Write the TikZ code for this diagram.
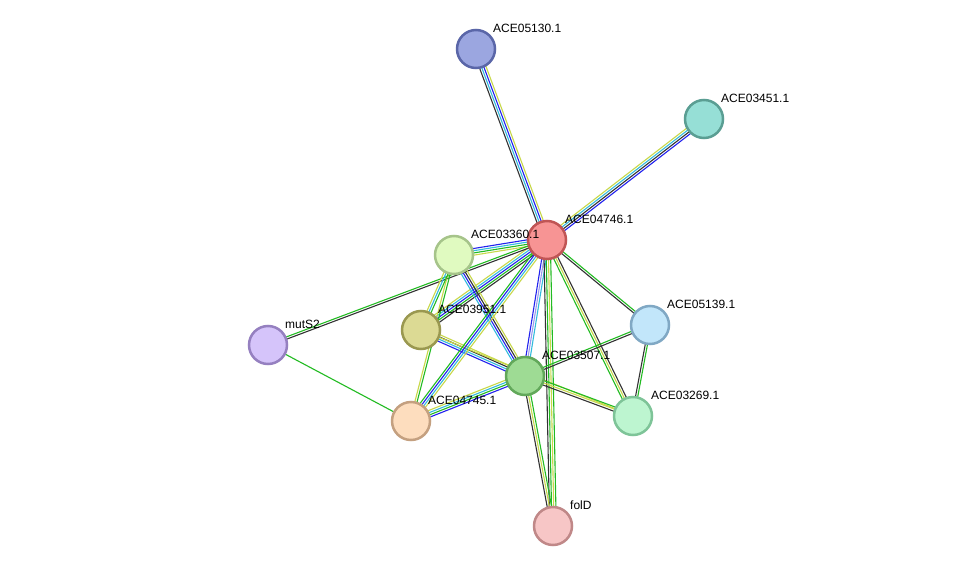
\documentclass[tikz,border=0pt]{standalone}
\usepackage{fontspec}
\setmainfont{Liberation Sans}
\usetikzlibrary{calc}
\definecolor{eG}{HTML}{22BB22}
\definecolor{eK}{HTML}{333333}
\definecolor{eY}{HTML}{C8D84A}
\definecolor{eB}{HTML}{2222EE}
\definecolor{eC}{HTML}{33BBDD}
\definecolor{eP}{HTML}{9999EE}
\tikzset{prot/.style={circle,minimum size=38pt,inner sep=0pt,line width=2.5pt},
 lbl/.style={anchor=west,font=\fontsize{12}{14}\selectfont,inner sep=1pt}}
\newcommand\medge[3]{%
 \foreach \c [count=\i] in {#3} {\pgfmathsetmacro\nn{0}}%
 \foreach \c [count=\i] in {#3} {%
  \pgfmathsetmacro\off{(\i-(\nn+1)/2)*2.2}%
  \draw[\c,line width=1.1pt] ($(#1)!\off pt!90:(#2)$) -- ($(#2)!\off pt!-90:(#1)$);}}
\newcommand\nedge[4]{%
 \foreach \c [count=\i] in {#4} {%
  \pgfmathsetmacro\off{(\i-(#3+1)/2)*2.2}%
  \draw[\c,line width=1.1pt] ($(#1)!\off pt!90:(#2)$) -- ($(#2)!\off pt!-90:(#1)$);}}
\begin{document}
\begin{tikzpicture}[x=1pt,y=-1pt]
\useasboundingbox[fill=white] (0,0) rectangle (976,572);
\coordinate (p30) at (476,49);
\coordinate (p51) at (704,119);
\coordinate (p46) at (547,240);
\coordinate (p60) at (454,255);
\coordinate (pmu) at (268,345);
\coordinate (p95) at (421,330);
\coordinate (p39) at (650,325);
\coordinate (p07) at (525,376);
\coordinate (p45) at (411,421);
\coordinate (p69) at (633,416);
\coordinate (pfo) at (553,526);
\nedge{p30}{p46}{4}{eK,eC,eB,eY}
\nedge{p51}{p46}{4}{eY,eC,eK,eB}
\nedge{p60}{p46}{4}{eY,eG,eC,eB}
\nedge{p95}{p46}{5}{eK,eG,eB,eC,eY}
\nedge{pmu}{p46}{2}{eK,eG}
\nedge{pmu}{p45}{1}{eG}
\nedge{p60}{p07}{4}{eC,eB,eK,eY}
\nedge{p60}{p45}{2}{eY,eG}
\nedge{p60}{p95}{3}{eY,eC,eG}
\nedge{p95}{p07}{4}{eB,eC,eK,eY}
\nedge{p95}{p69}{1}{eY}
\nedge{p46}{p07}{3}{eB,eP,eC}
\nedge{p46}{p45}{4}{eG,eB,eC,eY}
\nedge{p46}{pfo}{4}{eK,eG,eY,eG}
\nedge{p46}{p69}{3}{eG,eY,eK}
\nedge{p46}{p39}{2}{eK,eG}
\nedge{p07}{p39}{2}{eK,eG}
\nedge{p39}{p69}{2}{eK,eG}
\nedge{p07}{p69}{3}{eK,eY,eG}
\nedge{p07}{pfo}{3}{eK,eY,eG}
\nedge{p07}{p45}{4}{eY,eC,eG,eB}
\node[prot,fill={rgb,255:red,155;green,166;blue,224},draw={rgb,255:red,90;green,102;blue,168}] (n30) at (p30) {};
\node[prot,fill={rgb,255:red,150;green,223;blue,214},draw={rgb,255:red,90;green,158;blue,147}] (n51) at (p51) {};
\node[prot,fill={rgb,255:red,247;green,148;blue,148},draw={rgb,255:red,192;green,85;blue,85}] (n46) at (p46) {};
\node[prot,fill={rgb,255:red,224;green,250;blue,192},draw={rgb,255:red,166;green,196;blue,138}] (n60) at (p60) {};
\node[prot,fill={rgb,255:red,213;green,196;blue,250},draw={rgb,255:red,149;green,128;blue,192}] (nmu) at (pmu) {};
\node[prot,fill={rgb,255:red,220;green,218;blue,148},draw={rgb,255:red,154;green,152;blue,80}] (n95) at (p95) {};
\node[prot,fill={rgb,255:red,194;green,230;blue,250},draw={rgb,255:red,128;green,168;blue,196}] (n39) at (p39) {};
\node[prot,fill={rgb,255:red,158;green,219;blue,148},draw={rgb,255:red,98;green,168;blue,90}] (n07) at (p07) {};
\node[prot,fill={rgb,255:red,253;green,221;blue,190},draw={rgb,255:red,196;green,160;blue,128}] (n45) at (p45) {};
\node[prot,fill={rgb,255:red,189;green,245;blue,208},draw={rgb,255:red,126;green,196;blue,152}] (n69) at (p69) {};
\node[prot,fill={rgb,255:red,247;green,198;blue,198},draw={rgb,255:red,192;green,136;blue,136}] (nfo) at (pfo) {};
\node[lbl] at (492,28) {ACE05130.1};
\node[lbl] at (720,98) {ACE03451.1};
\node[lbl] at (564,219) {ACE04746.1};
\node[lbl] at (470,234) {ACE03360.1};
\node[lbl] at (284,324) {mutS2};
\node[lbl] at (437,309) {ACE03951.1};
\node[lbl] at (666,304) {ACE05139.1};
\node[lbl] at (541,355) {ACE03507.1};
\node[lbl] at (427,400) {ACE04745.1};
\node[lbl] at (650,395) {ACE03269.1};
\node[lbl] at (569,505) {folD};
\end{tikzpicture}
\end{document}
